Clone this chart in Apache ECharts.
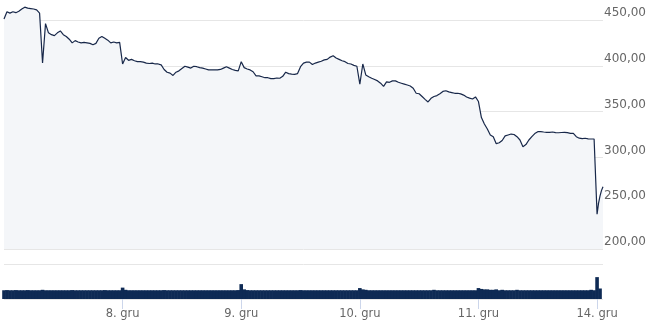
<!DOCTYPE html>
<html>
<head>
<meta charset="utf-8">
<script src="https://cdn.jsdelivr.net/npm/echarts@6/dist/echarts.min.js"></script>
<style>
html,body{margin:0;padding:0;background:#fff;}
#c{width:650px;height:324px;}
</style>
</head>
<body>
<div id="c"></div>
<script>
// Tick labels and positions (index of first point of each day)
const dayLabels = ['8. gru', '9. gru', '10. gru', '11. gru', '14. gru'];
const dayStarts = [40, 80, 120, 160, 200];
const yTicks = [200, 250, 300, 350, 400, 450];

// Prices, one value per sample (40 per full session)
const price7 = [451, 459, 457.5, 459, 458, 459.5, 462, 464, 463, 462.5, 462, 461, 457.5, 403, 446, 436, 434, 433, 436, 438,
  434, 432, 429, 425, 427.5, 426, 425, 425.5, 425, 424.5, 423, 424.5, 430, 432, 430, 428, 425, 426, 425, 425.5];
const price8 = [402, 409, 406, 407, 405.5, 404.5, 404.5, 404, 403, 402.5, 403, 402, 402, 401, 396, 393, 392, 389.5, 393, 394.5,
  397, 399.5, 398.5, 397.5, 399.5, 399, 398, 397.5, 396.5, 395.5, 395.5, 395.5, 395.5, 396, 397.5, 399, 397.5, 396, 395, 394.5];
const price9 = [404.5, 398, 396.5, 395.5, 393.5, 389, 389, 388, 387, 387, 386, 386, 386.7, 386.4, 388.5, 393, 391.5, 391, 390.7, 391.5,
  399, 403, 404, 404, 401.5, 403, 404, 405, 406.5, 407, 409.5, 411, 408.5, 407, 405.5, 404.5, 402.5, 402, 400.5, 399.5];
const price10 = [380, 402, 390, 388, 386.4, 385, 383.5, 381, 377.5, 382.5, 382, 383.5, 383.5, 382, 381, 380, 379, 378, 375.5, 370,
  369.5, 366.5, 363.4, 360.5, 364.5, 366.5, 367.5, 369.5, 372, 372.8, 371.5, 370.8, 370, 370, 369.3, 368, 366, 364.7, 363.8, 366];
const price11 = [361, 343.5, 336.5, 331, 324.5, 322.5, 315, 316, 318.5, 323.5, 324.5, 325.5, 325, 322.6, 319, 311.7, 314, 319, 322.6, 326,
  328.1, 328.1, 327.7, 327.4, 327.4, 327.7, 327, 326.9, 327.2, 327.4, 327, 326.3, 326.3, 322.6, 321, 320.5, 320.9, 320.3, 320.1, 320.1];
const price14 = [238, 250, 258, 264, 268]; // half-sample steps

// Volumes, one value per sample
const vol7 = [1.0, 1.02, 1.0, 1.0, 1.02, 1.0, 1.0, 1.0, 1.02, 1.0, 1.0, 1.0, 1.0, 1.05, 1.0, 1.0, 1.0, 1.0, 1.0, 1.0,
  1.0, 1.0, 1.0, 1.02, 1.0, 1.0, 1.0, 1.0, 1.0, 1.0, 1.0, 1.0, 1.0, 1.0, 1.02, 1.0, 1.0, 1.0, 1.0, 1.0];
const vol8 = [1.3, 1.05, 1.0, 1.0, 1.0, 1.0, 1.0, 1.0, 1.0, 1.0, 1.0, 1.0, 1.0, 1.0, 1.02, 1.0, 1.0, 1.0, 1.0, 1.0,
  1.0, 1.0, 1.0, 1.0, 1.0, 1.0, 1.0, 1.0, 1.0, 1.0, 1.0, 1.0, 1.0, 1.0, 1.0, 1.0, 1.0, 1.0, 1.0, 1.02];
const vol9 = [1.7, 1.1, 1.02, 1.0, 1.0, 1.0, 1.0, 1.0, 1.0, 1.0, 1.0, 1.0, 1.0, 1.0, 1.0, 1.0, 1.0, 1.0, 1.0, 1.0,
  1.02, 1.0, 1.0, 1.0, 1.0, 1.0, 1.0, 1.0, 1.0, 1.0, 1.0, 1.0, 1.0, 1.0, 1.0, 1.0, 1.0, 1.0, 1.0, 1.0];
const vol10 = [1.25, 1.1, 1.05, 1.0, 1.0, 1.0, 1.0, 1.0, 1.0, 1.0, 1.0, 1.0, 1.0, 1.0, 1.0, 1.0, 1.0, 1.0, 1.0, 1.0,
  1.0, 1.0, 1.0, 1.0, 1.0, 1.05, 1.0, 1.0, 1.0, 1.0, 1.0, 1.0, 1.0, 1.0, 1.0, 1.0, 1.0, 1.0, 1.0, 1.0];
const vol11 = [1.25, 1.15, 1.1, 1.1, 1.05, 1.05, 1.1, 1.0, 1.05, 1.0, 1.0, 1.0, 1.0, 1.05, 1.0, 1.0, 1.0, 1.0, 1.0, 1.0,
  1.0, 1.0, 1.0, 1.0, 1.0, 1.0, 1.0, 1.0, 1.0, 1.0, 1.0, 1.0, 1.0, 1.0, 1.0, 1.0, 1.0, 1.0, 1.05, 1.0];
const vol14 = [2.5, 1.2];

const fullDays = [price7, price8, price9, price10, price11];
const fullVols = [vol7, vol8, vol9, vol10, vol11];
const priceData = [];
const volData = [];
fullDays.forEach((arr, d) => arr.forEach((v, j) => priceData.push([d * 40 + j, v])));
price14.forEach((v, j) => priceData.push([200 + j * 0.5, v]));
fullVols.forEach((arr, d) => arr.forEach((v, j) => volData.push([d * 40 + j, v])));
vol14.forEach((v, j) => volData.push([200 + j, v]));

const labelMap = {};
dayStarts.forEach((s, i) => labelMap[s] = dayLabels[i]);

const FONT = 'DejaVu Sans';
const chart = echarts.init(document.getElementById('c'), null, {renderer: 'canvas'});
chart.setOption({
  animation: false,
  backgroundColor: '#ffffff',
  grid: [
    {left: 4, width: 599, top: 20, height: 229},
    {left: 4, width: 599, top: 264, height: 35}
  ],
  xAxis: [
    {gridIndex: 0, type: 'value', min: 0, max: 202, show: false},
    {gridIndex: 1, type: 'value', min: 0, max: 202,
      splitLine: {show: false},
      axisLine: {show: false},
      axisTick: {show: true, customValues: dayStarts, length: 10, lineStyle: {color: '#ccd6eb'}},
      axisLabel: {customValues: dayStarts, formatter: v => labelMap[v] || '', color: '#666666',
        fontFamily: FONT, fontSize: 11.5, margin: 9}
    }
  ],
  yAxis: [
    {gridIndex: 0, type: 'value', position: 'right', min: 200, max: 450, interval: 50,
      axisLine: {show: false}, axisTick: {show: false},
      splitLine: {lineStyle: {color: '#e6e6e6', width: 1}},
      axisLabel: {formatter: v => v.toFixed(2).replace('.', ','), color: '#666666', fontFamily: FONT,
        fontSize: 12, margin: 1, verticalAlign: 'bottom', padding: [0, 0, 1, 0]}
    },
    {gridIndex: 1, type: 'value', position: 'right', min: 0, max: 4, interval: 4,
      axisLine: {show: false}, axisTick: {show: false}, axisLabel: {show: false},
      splitLine: {lineStyle: {color: '#e6e6e6', width: 1}}
    }
  ],
  series: [
    {type: 'line', xAxisIndex: 0, yAxisIndex: 0, data: priceData, showSymbol: false, symbol: 'none',
      clip: false, smooth: false,
      lineStyle: {color: '#18284a', width: 1.2},
      areaStyle: {color: '#f4f6f9', opacity: 1, origin: 'start'}
    },
    {type: 'bar', xAxisIndex: 1, yAxisIndex: 1, data: volData, barWidth: 3.6,
      itemStyle: {color: '#0e2a54'}
    }
  ]
});
</script>
</body>
</html>
